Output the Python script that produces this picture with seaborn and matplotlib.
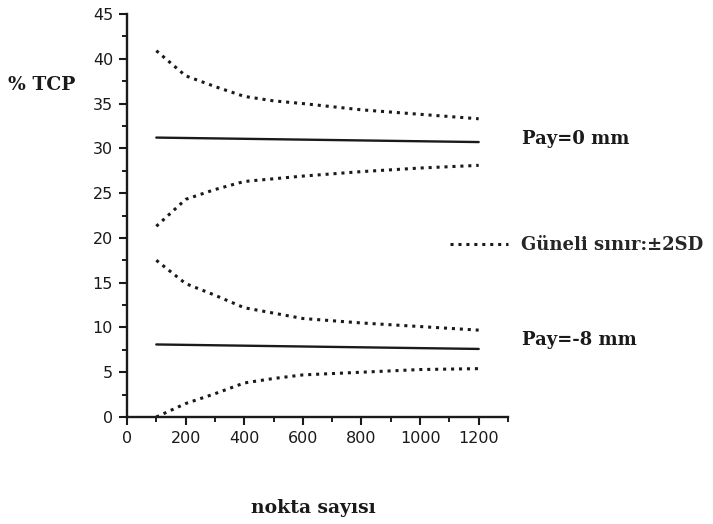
import matplotlib
matplotlib.use("Agg")
import matplotlib.pyplot as plt
from matplotlib.lines import Line2D
from matplotlib.ticker import MultipleLocator
import numpy as np
import pandas as pd
import seaborn as sns

# Number of points used for the TCP estimate
nokta = [100, 200, 300, 400, 500, 600, 800, 1000, 1200]
nokta_uc = [100, 1200]

# Margin = 0 mm: mean TCP and the ±2SD confidence bounds
pay0_ust = [40.9, 38.1, 36.9, 35.8, 35.3, 35.0, 34.3, 33.8, 33.3]
pay0_ort = [31.2, 30.7]
pay0_alt = [21.3, 24.3, 25.4, 26.3, 26.6, 26.9, 27.4, 27.8, 28.1]

# Margin = -8 mm
pay8_ust = [17.5, 14.9, 13.6, 12.2, 11.6, 11.0, 10.5, 10.1, 9.7]
pay8_ort = [8.1, 7.6]
pay8_alt = [0.0, 1.5, 2.6, 3.8, 4.3, 4.7, 5.0, 5.3, 5.4]

sns.set_theme(style="ticks")
plt.rcParams["font.family"] = ["DejaVu Sans"]

ink = "#1a1a1a"
fig = plt.figure(figsize=(7.13, 5.24), dpi=100)
ax = fig.add_axes([127 / 713, (524 - 417) / 524, (508 - 127) / 713, (417 - 14) / 524])

dot_lw = 2.2
dot_pattern = (1, 1.6)

for seri in (pay0_ust, pay0_alt, pay8_ust, pay8_alt):
    sns.lineplot(x=nokta, y=seri, ax=ax, color=ink, linewidth=dot_lw)
    ax.lines[-1].set_dashes(dot_pattern)
    ax.lines[-1].set_dash_capstyle("butt")
for seri in (pay0_ort, pay8_ort):
    sns.lineplot(x=nokta_uc, y=seri, ax=ax, color=ink, linewidth=1.7)

ax.set_xlim(0, 1300)
ax.set_ylim(0, 45)
ax.set_xticks(np.arange(0, 1201, 200))
ax.set_xticklabels([str(v) for v in range(0, 1201, 200)])
ax.xaxis.set_minor_locator(MultipleLocator(100))
ax.yaxis.set_major_locator(MultipleLocator(5))
ax.yaxis.set_minor_locator(MultipleLocator(2.5))

for side in ("top", "right"):
    ax.spines[side].set_visible(False)
for side in ("left", "bottom"):
    ax.spines[side].set_linewidth(1.7)
    ax.spines[side].set_color(ink)

ax.tick_params(which="major", direction="out", length=6, width=1.5, color=ink,
               labelsize=11.5, labelcolor=ink, pad=4)
ax.tick_params(which="minor", direction="out", length=3.5, width=1.4, color=ink)
ax.set_xlabel("")
ax.set_ylabel("")

serif = ["DejaVu Serif"]
fig.text(8 / 713, 1 - 85 / 524, "% TCP", ha="left", va="center",
         fontsize=13.5, fontweight="bold", family=serif, color=ink)
fig.text(313 / 713, 1 - 508 / 524, "nokta sayısı", ha="center", va="center",
         fontsize=13.5, fontweight="bold", family=serif, color=ink)
fig.text(522 / 713, 1 - 139 / 524, "Pay=0 mm", ha="left", va="center",
         fontsize=13, fontweight="bold", family=serif, color=ink)
fig.text(522 / 713, 1 - 340 / 524, "Pay=-8 mm", ha="left", va="center",
         fontsize=13, fontweight="bold", family=serif, color=ink)

anahtar = Line2D([], [], color=ink, linewidth=dot_lw, linestyle=(0, dot_pattern))
ax.legend([anahtar], ["Güneli sınır:±2SD"], loc="center left",
          bbox_to_anchor=(450 / 713, 1 - 245 / 524), bbox_transform=fig.transFigure,
          frameon=False, handlelength=3.2, handletextpad=0.75, borderpad=0,
          borderaxespad=0, prop=dict(family=serif, weight="bold", size=13))

fig.savefig("out.png", dpi=100, facecolor="white")
